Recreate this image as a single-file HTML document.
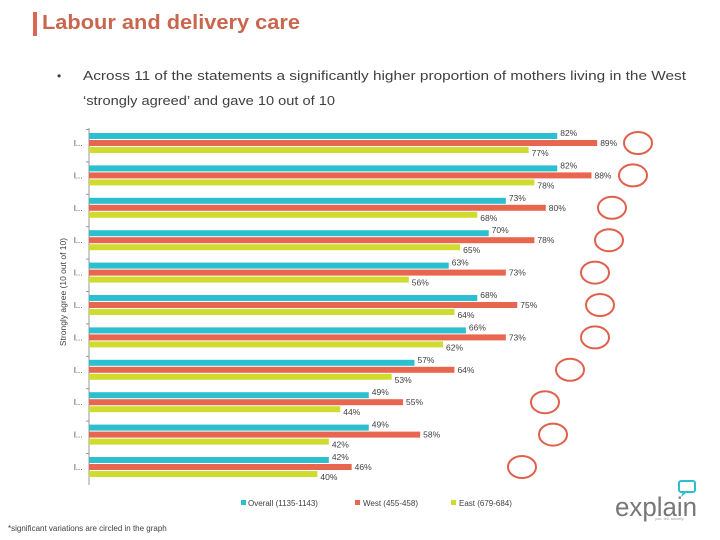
<!DOCTYPE html>
<html><head><meta charset="utf-8"><style>
html,body{margin:0;padding:0;background:#fff;}
svg{display:block;font-family:"Liberation Sans",sans-serif;}
</style></head><body>
<svg id="c" width="720" height="540" viewBox="0 0 720 540">
<rect x="33" y="12" width="4" height="24" fill="#d9684f"/>
<text x="42" y="29" font-size="20" font-weight="bold" fill="#c9674e" textLength="258" lengthAdjust="spacingAndGlyphs">Labour and delivery care</text>
<text x="57" y="80" font-size="12" fill="#404040">•</text>
<text x="83" y="80" font-size="12.5" fill="#404040" textLength="603" lengthAdjust="spacingAndGlyphs">Across 11 of the statements a significantly higher proportion of mothers living in the West</text>
<text x="83" y="105" font-size="12.5" fill="#404040" textLength="252" lengthAdjust="spacingAndGlyphs">‘strongly agreed’ and gave 10 out of 10</text>
<text transform="translate(66,292) rotate(-90)" text-anchor="middle" font-size="8.5" fill="#404040">Strongly agree (10 out of 10)</text>
<line x1="89" y1="128" x2="89" y2="485" stroke="#999" stroke-width="1"/>
<g id="marks"></g>
<rect x="241" y="500" width="5" height="5" fill="#2bbfcf"/>
<text x="248" y="506" font-size="8" fill="#404040">Overall (1135-1143)</text>
<rect x="355" y="500" width="5" height="5" fill="#e8664f"/>
<text x="363" y="506" font-size="8" fill="#404040">West (455-458)</text>
<rect x="451" y="500" width="5" height="5" fill="#cfdc2f"/>
<text x="459" y="506" font-size="8" fill="#404040">East (679-684)</text>
<text x="8" y="531" font-size="8" fill="#404040">*significant variations are circled in the graph</text>
<g>
<rect x="679" y="481" width="16" height="11" rx="2" fill="none" stroke="#2bbfcf" stroke-width="2"/>
<path d="M683 492 L681 497 L687 492" fill="#2bbfcf"/>
<text x="615" y="516" font-size="27" fill="#777" textLength="82" lengthAdjust="spacingAndGlyphs">explain</text>
<text x="655" y="520" font-size="4" fill="#999">you. tell. society.</text>
</g>
</svg>
<script>
const categories = ["l...","l...","l...","l...","l...","l...","l...","l...","l...","l...","l..."];
const overall = [82,82,73,70,63,68,66,57,49,49,42];
const west = [89,88,80,78,73,75,73,64,55,58,46];
const east = [77,78,68,65,56,64,62,53,44,42,40];
const circled = [1,1,1,1,1,1,1,1,1,1,1];
const circleX = [638,633,612,609,595,600,595,570,545,553,522];

const NS = "http://www.w3.org/2000/svg";
const g = document.getElementById('marks');
const x0 = 89, pxPer = 5.71;
function xs(v){ return x0 + v*pxPer; }
function groupTop(i){ return 133 + i*32.4; }
function mk(tag, attrs){ const e=document.createElementNS(NS,tag); for(const k in attrs) e.setAttribute(k,attrs[k]); g.appendChild(e); return e; }
const series = [{d:overall,c:"#2bbfcf",n:"overall"},{d:west,c:"#e8664f",n:"west"},{d:east,c:"#cfdc2f",n:"east"}];
categories.forEach((cat,i)=>{
  const t = groupTop(i);
  const lab = mk('text',{x:74,y:t+13,'font-size':8,fill:'#404040'});
  lab.textContent = cat;
  
  
  const tk = mk('line',{x1:86,x2:89,y1:t-3.5,y2:t-3.5,stroke:'#999'});
  
  
  series.forEach((s,j)=>{
    const y = t + j*7;
    const b = mk('rect',{x:x0,y:y,width:xs(s.d[i])-x0,height:6,fill:s.c});
    
    
    const v = mk('text',{x:xs(s.d[i])+3,y:y+(j==2?9:j==1?6:3),'font-size':8.5,fill:'#404040'});
    v.textContent = s.d[i] + '%';
    
    
  });
  if(circled[i]){
    const c = mk('ellipse',{cx:circleX[i],cy:t+10,rx:14,ry:11,fill:'none',stroke:'#e0604c','stroke-width':2});
    
    
  }
});
</script>
</body></html>
